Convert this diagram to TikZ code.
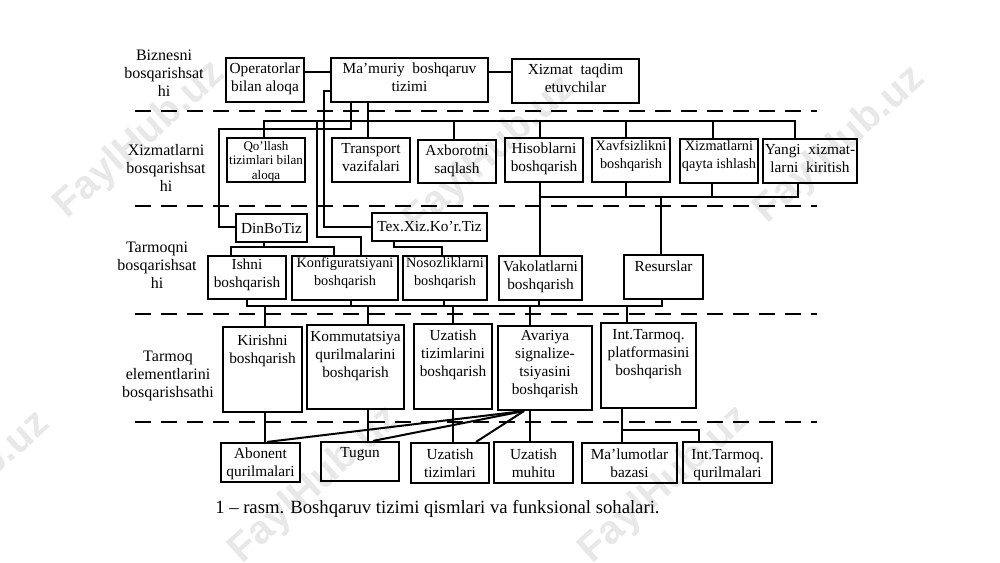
\documentclass[tikz,border=0pt]{standalone}
\usepackage{fontspec}
\setmainfont{Liberation Serif}
\newfontfamily\markfont{Liberation Sans}
\usepackage{tikz}
\definecolor{markgray}{RGB}{232,232,232}
\tikzset{
  box/.style 2 args={draw, rectangle, line width=1.6pt, inner sep=0pt, align=center, minimum width=#1*0.75pt, minimum height=#2*0.75pt, font=\fontsize{11.5}{13.5}\selectfont},
  narrow/.style={font=\fontsize{10.7}{13.5}\selectfont},
  lift/.style={text height=0pt, text depth=#1*1.5pt},
  drop/.style={text depth=0pt, text height=#1*1.5pt},
  levellabel/.style={align=center, inner sep=0pt, font=\fontsize{12}{13.4}\selectfont},
  conn/.style={line width=1.5pt},
  level/.style={line width=1.5pt, dash pattern=on 12pt off 7.5pt},
  watermark/.style={text=markgray, rotate=42, inner sep=0pt, font=\markfont\bfseries\fontsize{30}{30}\selectfont}
}
\begin{document}
\begin{tikzpicture}[x=0.75pt, y=-0.75pt]
\useasboundingbox (0,0) rectangle (1000,562);

% Watermark
\node[watermark] (mark1) at (140,140) {FaylHub.uz};
\node[watermark] (mark2) at (490,155) {FaylHub.uz};
\node[watermark] (mark3) at (840,145) {FaylHub.uz};
\node[watermark] (mark4) at (-35,490) {FaylHub.uz};
\node[watermark] (mark5) at (315,485) {FaylHub.uz};
\node[watermark] (mark6) at (665,485) {FaylHub.uz};

% Level separators
\coordinate (sepL) at (135,0);
\coordinate (sepR) at (817,0);
\draw[level] (sepL |- 0,111) -- (sepR |- 0,111);
\draw[level] (sepL |- 0,206) -- (sepR |- 0,206);
\draw[level] (sepL |- 0,314) -- (sepR |- 0,314);
\draw[level] (sepL |- 0,422) -- (sepR |- 0,422);

% Level names
\node[levellabel] (biznes) at (164,73) {Biznesni\\bosqarishsat\\hi};
\node[levellabel] (xizmat) at (166,168) {Xizmatlarni\\bosqarishsat\\hi};
\node[levellabel] (tarmoq) at (157,265) {Tarmoqni\\bosqarishsat\\hi};
\node[levellabel] (element) at (168,376) {Tarmoq\\elementlarini\\bosqarishsathi};

% Business level
\node[box={78}{44}, drop=11] (operator) at (265,80) {Operatorlar\\bilan aloqa};
\node[box={157}{44}, drop=11] (mamuriy) at (409.5,80) {Ma’muriy\ \ boshqaruv\\tizimi};
\node[box={127}{44}, drop=11] (taqdim) at (575.5,81) {Xizmat\ \ taqdim\\etuvchilar};

% Service level
\node[box={78}{44}, font=\fontsize{9.8}{10.8}\selectfont, drop=19] (qollash) at (266,160) {Qo’llash\\tizimlari bilan\\aloqa};
\node[box={78}{44}, drop=11] (transport) at (371,160) {Transport\\vazifalari};
\node[box={78}{43}, drop=11.5] (axborot) at (457,161.5) {Axborotni\\saqlash};
\node[box={78}{44}, drop=11] (hisob) at (544,160) {Hisoblarni\\boshqarish};
\node[box={78}{44}, narrow, drop=8] (xavf) at (631,160) {Xavfsizlikni\\boshqarish};
\node[box={78}{44}, narrow, drop=7] (qayta) at (719,161) {Xizmatlarni\\qayta ishlash};
\node[box={94}{44}, drop=11] (yangi) at (810,161) {Yangi\ \ xizmat-\\larni\ \ kiritish};

% Network level
\node[box={71}{28}] (dinbo) at (271.5,228) {DinBoTiz};
\node[box={115}{28}] (texxiz) at (429.5,227) {Tex.Xiz.Ko’r.Tiz};
\node[box={78}{43}, drop=9.5] (ishni) at (247,277.5) {Ishni\\boshqarish};
\node[box={106}{44}, narrow, drop=7] (konfig) at (345,278) {Konfiguratsiyani\\boshqarish};
\node[box={84}{44}, narrow, drop=7] (nosoz) at (445,278) {Nosozliklarni\\boshqarish};
\node[box={83}{44}, drop=11] (vakolat) at (540.5,278) {Vakolatlarni\\boshqarish};
\node[box={79}{44}, lift=6] (resurs) at (663.5,277) {Resurslar};

% Element level
\node[box={79}{85}, lift=6.5] (kirish) at (262.5,369.5) {Kirishni\\boshqarish};
\node[box={97}{84}, drop=10] (kommut) at (355.5,367) {Kommutatsiya\\qurilmalarini\\boshqarish};
\node[box={78}{85}, drop=9.5] (uzatish) at (453,366.5) {Uzatish\\tizimlarini\\boshqarish};
\node[box={94}{84}, drop=26] (avariya) at (545,368) {Avariya\\signalize-\\tsiyasini\\boshqarish};
\node[box={95}{85}, drop=9.5] (platforma) at (648.5,365.5) {Int.Tarmoq.\\platformasini\\boshqarish};

% Physical level
\node[box={79}{39}, drop=13.5] (abonent) at (260.5,462.5) {Abonent\\qurilmalari};
\node[box={78}{39}, lift=4.5] (tugun) at (360,461.5) {Tugun};
\node[box={78}{40}, drop=14] (tizimlar) at (450,463) {Uzatish\\tizimlari};
\node[box={79}{41}, drop=14.5] (muhit) at (533.5,462.5) {Uzatish\\muhitu};
\node[box={95}{40}, drop=14] (malumot) at (629.5,463) {Ma’lumotlar\\bazasi};
\node[box={89}{41}, drop=14.5] (qurilma) at (727.5,462.5) {Int.Tarmoq.\\qurilmalari};

% Caption
\node[inner sep=0pt, anchor=west, font=\fontsize{14}{16}\selectfont] (caption) at (215,509) {1 – rasm. Boshqaruv tizimi qismlari va funksional sohalari.};

% Top level links
\coordinate (linkTop) at (0,72);
\draw[conn] (operator.east |- linkTop) -- (mamuriy.west |- linkTop);
\draw[conn] (mamuriy.east |- linkTop) -- (taqdim.west |- linkTop);

% Service bus
\coordinate (busA) at (264,121);
\coordinate (busB) at (795,121);
\coordinate (dropT) at (368,0);
\coordinate (dropAx) at (454,0);
\coordinate (dropHi) at (540,0);
\coordinate (dropXa) at (626,0);
\coordinate (dropXi) at (713,0);
\draw[conn] (qollash.north -| busA) -- (busA) -- (busB) -- (yangi.north -| busB);
\draw[conn] (mamuriy.south -| dropT) -- (transport.north -| dropT);
\draw[conn] (busA -| dropAx) -- (axborot.north -| dropAx);
\draw[conn] (busA -| dropHi) -- (hisob.north -| dropHi);
\draw[conn] (busA -| dropXa) -- (xavf.north -| dropXa);
\draw[conn] (busA -| dropXi) -- (qayta.north -| dropXi);

% Links through the service level
\coordinate (dinOut) at (351,129);
\coordinate (dinLeft) at (219,227);
\draw[conn] (mamuriy.south -| dinOut) -- (dinOut) -- (dinOut -| dinLeft) -- (dinLeft) -- (dinbo.west |- dinLeft);
\coordinate (texOut) at (324,91);
\coordinate (texLeft) at (324,227);
\draw[conn] (mamuriy.west |- texOut) -- (texOut) -- (texLeft) -- (texxiz.west |- texLeft);
\coordinate (konfA) at (317,121);
\coordinate (konfB) at (317,237);
\coordinate (konfC) at (361,237);
\draw[conn] (konfA) -- (konfB) -- (konfC) -- (konfig.north -| konfC);

% Lower service bus
\coordinate (lowA) at (540,197);
\coordinate (lowB) at (798,197);
\coordinate (dropRe) at (661,0);
\draw[conn] (hisob.south -| dropHi) -- (vakolat.north -| dropHi);
\draw[conn] (lowA) -- (lowB) -- (yangi.south -| lowB);
\draw[conn] (xavf.south -| dropXa) -- (lowA -| dropXa);
\draw[conn] (qayta.south -| 712,0) -- (lowA -| 712,0);
\draw[conn] (lowA -| dropRe) -- (resurs.north -| dropRe);

% Network level branches
\coordinate (dinMid) at (264,247);
\coordinate (dinA) at (231,247);
\coordinate (dinB) at (334,247);
\draw[conn] (dinbo.south -| dinMid) -- (dinMid);
\draw[conn] (ishni.north -| dinA) -- (dinA) -- (dinB) -- (konfig.north -| dinB);
\coordinate (texA) at (394,247);
\coordinate (texB) at (442,247);
\draw[conn] (texxiz.south -| texA) -- (texA) -- (texB) -- (nosoz.north -| texB);

% Network bus
\coordinate (netA) at (247,306);
\coordinate (netB) at (662,306);
\draw[conn] (ishni.south -| netA) -- (netA) -- (netB) -- (resurs.south -| netB);
\draw[conn] (konfig.south -| 351,0) -- (netA -| 351,0);
\draw[conn] (nosoz.south -| 444,0) -- (netA -| 444,0);
\draw[conn] (vakolat.south -| 539,0) -- (netA -| 539,0);
\coordinate (downK) at (265,0);
\coordinate (downC) at (368,0);
\coordinate (downU) at (453,0);
\coordinate (downA) at (530,0);
\draw[conn] (netA -| downK) -- (kirish.north -| downK);
\draw[conn] (netA -| downC) -- (kommut.north -| downC);
\draw[conn] (netA -| downU) -- (uzatish.north -| downU);
\draw[conn] (netA -| downA) -- (avariya.north -| downA);
\draw[conn] (netA -| 627,0) -- (platforma.north -| 627,0);

% Physical level links
\draw[conn] (kirish.south -| downK) -- (abonent.north -| downK);
\draw[conn] (kommut.south -| downC) -- (tugun.north -| downC);
\draw[conn] (uzatish.south -| downU) -- (tizimlar.north -| downU);
\draw[conn] (avariya.south -| downA) -- (muhit.north -| downA);
\coordinate (dbX) at (622,430);
\coordinate (dbR) at (699,430);
\draw[conn] (platforma.south -| dbX) -- (malumot.north -| dbX);
\draw[conn] (dbX) -- (dbR) -- (qurilma.north -| dbR);
\coordinate (fan) at (524,411);
\draw[conn] (fan) -- (abonent.north -| 267,0);
\draw[conn] (fan) -- (tugun.north -| 373,0);
\draw[conn] (fan) -- (tizimlar.north -| 476,0);
\end{tikzpicture}
\end{document}
